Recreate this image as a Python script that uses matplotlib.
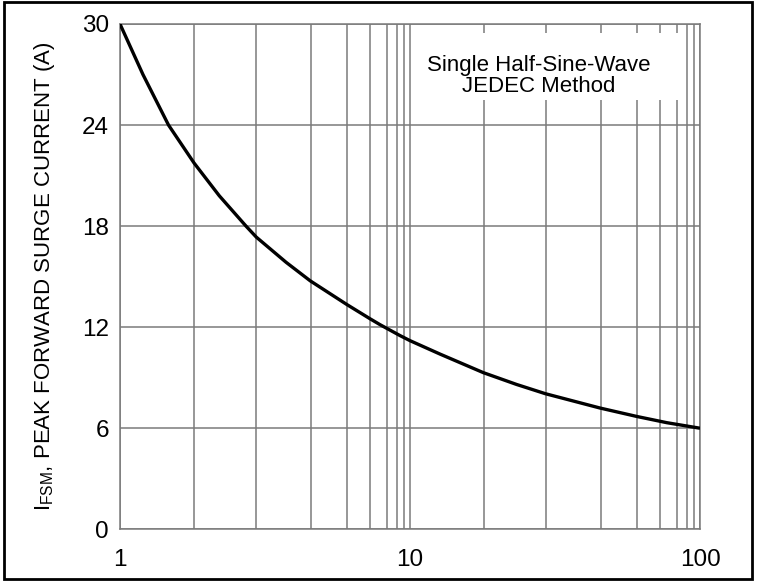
import matplotlib
matplotlib.use("Agg")
import matplotlib.pyplot as plt
from matplotlib.patches import Rectangle
from matplotlib.ticker import FixedLocator, NullFormatter, FixedFormatter

plt.rcParams['font.family'] = ['Liberation Sans', 'DejaVu Sans']
plt.rcParams['mathtext.fontset'] = 'custom'
plt.rcParams['mathtext.rm'] = 'Liberation Sans'

# Data
cycles = [1, 1.2, 1.47, 1.8, 2.2, 2.72, 2.95, 3.74, 4.53, 6.05, 7.28, 7.88,
          9.24, 10, 12.7, 17.9, 23.3, 29.3, 45.2, 60.5, 76.8, 100]
current = [30, 27.0, 24.0, 21.75, 19.8, 18.0, 17.35, 15.85, 14.75, 13.35, 12.5, 12.15,
           11.5, 11.2, 10.4, 9.30, 8.6, 8.05, 7.2, 6.7, 6.33, 6.0]

y_ticks = [0, 6, 12, 18, 24, 30]
x_ticks = [1, 10, 100]
x_tick_labels = ['1', '10', '100']
# grid lines as drawn in the reference (per decade)
grid_decade = [1.8, 2.94, 4.56, 6.07, 7.28, 8.34, 9.02, 9.53]

fig = plt.figure(figsize=(7.58, 5.81), dpi=100)
ax = fig.add_axes([0.1583, 0.0890, 0.7652, 0.8697])

ax.set_xscale('log')
ax.set_xlim(1, 100)
ax.set_ylim(0, 30)

ax.plot(cycles, current, color='black', lw=2.4, zorder=3,
        solid_capstyle='butt', solid_joinstyle='round')

ax.xaxis.set_major_locator(FixedLocator(x_ticks))
ax.xaxis.set_major_formatter(FixedFormatter(x_tick_labels))
minor = [g * d for d in (1, 10) for g in grid_decade]
ax.xaxis.set_minor_locator(FixedLocator(minor))
ax.xaxis.set_minor_formatter(NullFormatter())
ax.set_yticks(y_ticks)

ax.set_axisbelow(True)
ax.grid(True, which='both', axis='x', color='#7a7a7a', lw=1.1)
ax.grid(True, which='major', axis='y', color='#7a7a7a', lw=1.1)

ax.tick_params(which='both', length=0)
ax.tick_params(axis='y', labelsize=17.5, pad=8)
ax.tick_params(axis='x', labelsize=17.5, pad=14)

for s in ax.spines.values():
    s.set_color('#7a7a7a')
    s.set_linewidth(1.1)

ax.set_ylabel(r'I$_{\mathregular{FSM}}$, PEAK FORWARD SURGE CURRENT (A)',
              fontsize=16)
ax.yaxis.set_label_coords(-0.108, 0.5)

ax.add_patch(Rectangle((0.505, 0.850), 0.464, 0.132, transform=ax.transAxes,
                       facecolor='white', edgecolor='none', zorder=2))
ax.text(0.722, 0.897, 'Single Half-Sine-Wave\nJEDEC Method', transform=ax.transAxes,
        ha='center', va='center', fontsize=16, linespacing=1.0, zorder=4)

fig.patches.append(Rectangle((4 / 758, 2 / 581), 748 / 758, 577 / 581,
                             transform=fig.transFigure, fill=False,
                             edgecolor='black', lw=2, zorder=10))

fig.savefig('out.png', dpi=100)
